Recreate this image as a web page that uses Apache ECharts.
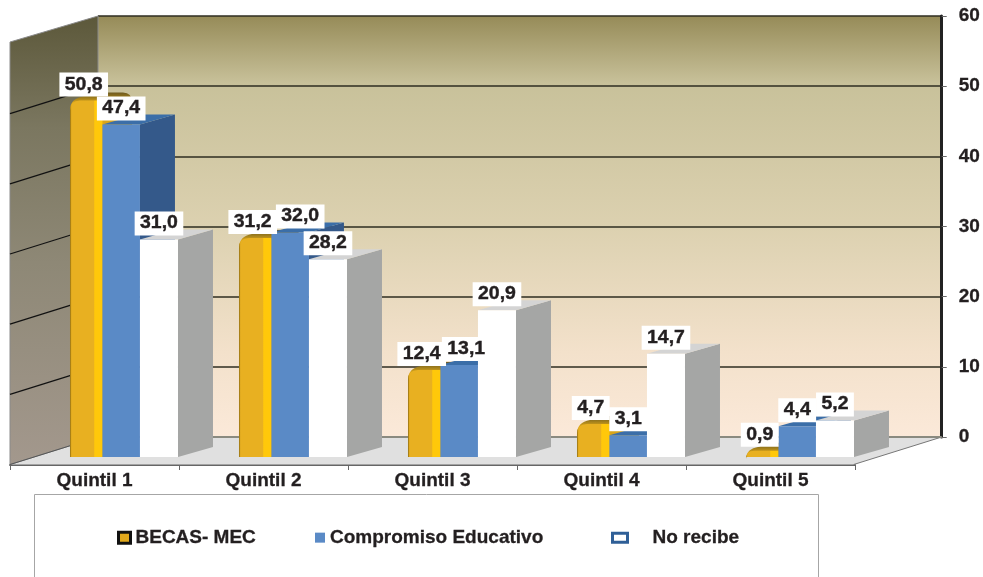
<!DOCTYPE html>
<html>
<head>
<meta charset="utf-8">
<title>Quintiles</title>
<script src="https://cdn.jsdelivr.net/npm/echarts@6/dist/echarts.min.js"></script>
<style>
  html, body { margin: 0; padding: 0; background: #fff; }
  #chart { width: 983px; height: 577px; }
</style>
</head>
<body>
<div id="chart"></div>
<script>
const categories = ['Quintil 1', 'Quintil 2', 'Quintil 3', 'Quintil 4', 'Quintil 5']
const becasMec = [50.8, 31.2, 12.4, 4.7, 0.9]
const compromiso = [47.4, 32.0, 13.1, 3.1, 4.4]
const noRecibe = [31.0, 28.2, 20.9, 14.7, 5.2]
const yTicks = [0, 10, 20, 30, 40, 50, 60]

const FONT = '"Liberation Sans", Arial, sans-serif'
const TEXT_COLOR = '#231f20'
const BAR_DX = 35
const BAR_DY = 10
const ROOM_DY = 27.5
// where each bar sits inside its category band (fractions of band width)
const GOLD_LEFT = -0.145
const GOLD_WIDTH = 0.192
const BLUE_LEFT = 0.047
const BLUE_WIDTH = 0.222
const WHITE_LEFT = 0.269
const WHITE_WIDTH = 0.225
// labels the original moved sideways so they don't collide
const BLUE_LABEL_NUDGE = { 1: 10, 2: 7 }

const gradV = stops => new echarts.graphic.LinearGradient(0, 0, 0, 1, stops.map(s => ({ offset: s[0], color: s[1] })))
const gradH = stops => new echarts.graphic.LinearGradient(0, 0, 1, 0, stops.map(s => ({ offset: s[0], color: s[1] })))

// labels live in their own series so the white boxes stay above every bar
function labelRenderer(centerFrac, shift, labelNudge) {
  return function (params, api) {
    const value = api.value(1)
    const center = api.coord([api.value(0), 0])
    const band = api.size([1, 0])[0]
    const top = api.coord([api.value(0), value])[1]
    const nudge = (labelNudge && labelNudge[params.dataIndex]) || 0
    return {
      type: 'text',
      x: center[0] + band * centerFrac + shift + nudge,
      y: top - 4,
      scaleX: 1.08,
      style: {
        text: value.toFixed(1).replace('.', ','),
        font: 'bold 18px ' + FONT,
        fill: TEXT_COLOR,
        stroke: TEXT_COLOR,
        lineWidth: 0.4,
        align: 'center',
        verticalAlign: 'bottom',
        backgroundColor: '#fff',
        padding: [3, 5, 3, 5]
      }
    }
  }
}

// wall on the left + floor, worked out from the back grid
function renderRoom(params, api) {
  const backBottom = api.coord([0, 0])
  const backTop = api.coord([0, 60])
  const backRight = api.coord([1, 0])
  const frontX = 10
  const frontRight = backRight[0] - (backTop[0] - frontX)
  const children = [
    {
      type: 'polygon',
      shape: { points: [[frontX, backBottom[1] + ROOM_DY], [backBottom[0], backBottom[1]], backRight, [frontRight, backBottom[1] + ROOM_DY]] },
      style: { fill: '#e0e0e0' }
    },
    {
      type: 'polygon',
      shape: { points: [[frontX, backTop[1] + 26], backTop, backBottom, [frontX, backBottom[1] + ROOM_DY]] },
      style: {
        fill: gradV([[0, '#5c583a'], [0.25, '#7b7760'], [0.55, '#8e8876'], [1, '#a3988d']]),
        stroke: '#8a8a8a',
        lineWidth: 1
      }
    },
    {
      type: 'line',
      shape: { x1: frontX, y1: backBottom[1] + ROOM_DY, x2: backBottom[0], y2: backBottom[1] },
      style: { stroke: '#555', lineWidth: 1 }
    },
    {
      type: 'line',
      shape: { x1: frontRight, y1: backBottom[1] + ROOM_DY, x2: backRight[0], y2: backRight[1] },
      style: { stroke: '#777', lineWidth: 1 }
    },
    {
      type: 'line',
      shape: { x1: backBottom[0], y1: backBottom[1], x2: backRight[0], y2: backRight[1] },
      style: { stroke: '#8a8a80', lineWidth: 2 }
    }
  ]
  yTicks.slice(1, -1).forEach(v => {
    const p = api.coord([0, v])
    children.push({
      type: 'line',
      shape: { x1: frontX, y1: p[1] + ROOM_DY, x2: p[0], y2: p[1] },
      style: { stroke: '#111', lineWidth: 1.2 }
    })
  })
  return { type: 'group', children }
}

// gold rounded bar, cylinder look
function renderGold(params, api) {
  const value = api.value(1)
  const center = api.coord([api.value(0), 0])
  const band = api.size([1, 0])[0]
  const x = center[0] + band * GOLD_LEFT
  const w = band * GOLD_WIDTH
  const base = center[1]
  const top = api.coord([api.value(0), value])[1]
  const r = Math.min(10, base - top + 2)
  const backPath = `M ${x} ${base} L ${x} ${top + r} Q ${x} ${top - 2} ${x + 13} ${top - 4} Q ${x + 20} ${top - 8} ${x + 28} ${top - 8} L ${x + 53} ${top - 8} Q ${x + 62} ${top - 8} ${x + 62} ${top + 2} L ${x + 62} ${base} Z`
  const frontPath = `M ${x} ${base} L ${x} ${top + r} Q ${x} ${top} ${x + r} ${top} L ${x + w} ${top} L ${x + w} ${base} Z`
  return {
    type: 'group',
    children: [
      {
        type: 'path',
        shape: { pathData: backPath },
        style: {
          fill: new echarts.graphic.LinearGradient(0, top - 8, 0, top + 2, [
            { offset: 0, color: '#6e5a20' },
            { offset: 0.5, color: '#9a7a1c' },
            { offset: 1, color: '#d9a51a' }
          ], true)
        }
      },
      {
        type: 'path',
        shape: { pathData: frontPath },
        style: { fill: gradH([[0, '#8c6a12'], [0.05, '#e8b021'], [0.74, '#e8b021'], [0.76, '#ffc80a'], [1, '#ffc80a']]) }
      }
    ]
  }
}

function boxRenderer(leftFrac, widthFrac, front, topFace, sideFace) {
  return function (params, api) {
    const value = api.value(1)
    const center = api.coord([api.value(0), 0])
    const band = api.size([1, 0])[0]
    const x = center[0] + band * leftFrac
    const w = band * widthFrac
    const base = center[1]
    const top = api.coord([api.value(0), value])[1]
    return {
      type: 'group',
      children: [
        {
          type: 'polygon',
          shape: { points: [[x + w, top], [x + w + BAR_DX, top - BAR_DY], [x + w + BAR_DX, base - BAR_DY], [x + w, base]] },
          style: { fill: sideFace }
        },
        {
          type: 'polygon',
          shape: { points: [[x, top], [x + BAR_DX, top - BAR_DY], [x + w + BAR_DX, top - BAR_DY], [x + w, top]] },
          style: { fill: topFace }
        },
        {
          type: 'rect',
          shape: { x: x, y: top, width: w, height: base - top },
          style: { fill: front }
        }
      ]
    }
  }
}

const toPairs = arr => arr.map((v, i) => [i, v])

const barSeries = (name, z, renderItem, values) => ({
  type: 'custom',
  name: name,
  xAxisIndex: 0,
  yAxisIndex: 0,
  z: z,
  renderItem: renderItem,
  encode: { x: 0, y: 1 },
  data: toPairs(values)
})

const legendText = { fontFamily: FONT, fontWeight: 'bold', fontSize: 19, color: TEXT_COLOR, textBorderColor: TEXT_COLOR, textBorderWidth: 0.3 }

const chart = echarts.init(document.getElementById('chart'))
chart.setOption({
  animation: false,
  backgroundColor: '#fff',
  textStyle: { fontFamily: FONT },
  grid: [
    { left: 10, width: 845, top: 36, height: 421 },
    {
      left: 98,
      width: 845,
      top: 16,
      height: 421,
      show: true,
      borderWidth: 0,
      backgroundColor: gradV([[0, '#968b58'], [0.16, '#c8c19a'], [0.5, '#dcd1b0'], [0.8, '#f3e1cb'], [1, '#fbe9d9']])
    }
  ],
  xAxis: [
    {
      type: 'category',
      gridIndex: 0,
      data: categories,
      offset: 8,
      axisLine: { onZero: false, lineStyle: { color: '#666', width: 2 } },
      axisTick: { show: true, length: 5, lineStyle: { color: '#666' } },
      axisLabel: { color: TEXT_COLOR, fontFamily: FONT, fontWeight: 'bold', fontSize: 19, margin: 6, textBorderColor: TEXT_COLOR, textBorderWidth: 0.3 },
      splitLine: { show: false }
    },
    { type: 'value', gridIndex: 1, min: 0, max: 1, show: false }
  ],
  yAxis: [
    { type: 'value', gridIndex: 0, min: 0, max: 60, show: false },
    {
      type: 'value',
      gridIndex: 1,
      min: 0,
      max: 60,
      interval: 10,
      position: 'right',
      axisLine: { show: true, onZero: false, lineStyle: { color: '#222', width: 3 } },
      axisTick: { show: true, length: 5, lineStyle: { color: '#666' } },
      axisLabel: {
        color: TEXT_COLOR,
        fontFamily: FONT,
        fontWeight: 'bold',
        fontSize: 19,
        margin: 17,
        align: 'left',
        textBorderColor: TEXT_COLOR,
        textBorderWidth: 0.3
      },
      splitLine: { show: true, lineStyle: { color: '#2e2c20', width: 1.5 } }
    }
  ],
  legend: [
    {
      left: 117, top: 528, padding: 0, itemWidth: 12, itemHeight: 11, selectedMode: false, textStyle: legendText,
      data: [{ name: 'BECAS- MEC', icon: 'rect', itemStyle: { color: '#e0a81c', borderColor: '#111', borderWidth: 3 } }]
    },
    {
      left: 315, top: 528, padding: 0, itemWidth: 10, itemHeight: 10, selectedMode: false, textStyle: legendText,
      data: [{ name: 'Compromiso Educativo', icon: 'rect', itemStyle: { color: '#5a8ac6' } }]
    },
    {
      left: 611, top: 528, padding: 0, itemWidth: 15, itemHeight: 9, selectedMode: false,
      textStyle: Object.assign({}, legendText, { padding: [0, 0, 0, 20] }),
      data: [{ name: 'No recibe', icon: 'rect', itemStyle: { color: '#fff', borderColor: '#2f5f97', borderWidth: 3 } }]
    }
  ],
  graphic: [
    {
      type: 'polyline',
      shape: { points: [[34.5, 577], [34.5, 494.5], [818.5, 494.5], [818.5, 577]] },
      style: { stroke: '#a6a6a6', lineWidth: 1, fill: null }
    }
  ],
  series: [
    {
      type: 'custom',
      name: 'room',
      xAxisIndex: 1,
      yAxisIndex: 1,
      z: 1,
      silent: true,
      renderItem: renderRoom,
      encode: { x: 0, y: 1 },
      data: [[0, 0]]
    },
    barSeries('BECAS- MEC', 3, renderGold, becasMec),
    barSeries('Compromiso Educativo', 4, boxRenderer(BLUE_LEFT, BLUE_WIDTH, '#5a8ac6', '#3b6ea8', '#34598a'), compromiso),
    barSeries('No recibe', 5, boxRenderer(WHITE_LEFT, WHITE_WIDTH, '#ffffff', '#d4d4d4', '#a5a6a5'), noRecibe),
    barSeries('labels gold', 6, labelRenderer(GOLD_LEFT + GOLD_WIDTH / 2, -2.5), becasMec),
    barSeries('labels blue', 7, labelRenderer(BLUE_LEFT + BLUE_WIDTH / 2, 0, BLUE_LABEL_NUDGE), compromiso),
    barSeries('labels white', 8, labelRenderer(WHITE_LEFT + WHITE_WIDTH / 2, 0), noRecibe)
  ]
})
</script>
</body>
</html>
